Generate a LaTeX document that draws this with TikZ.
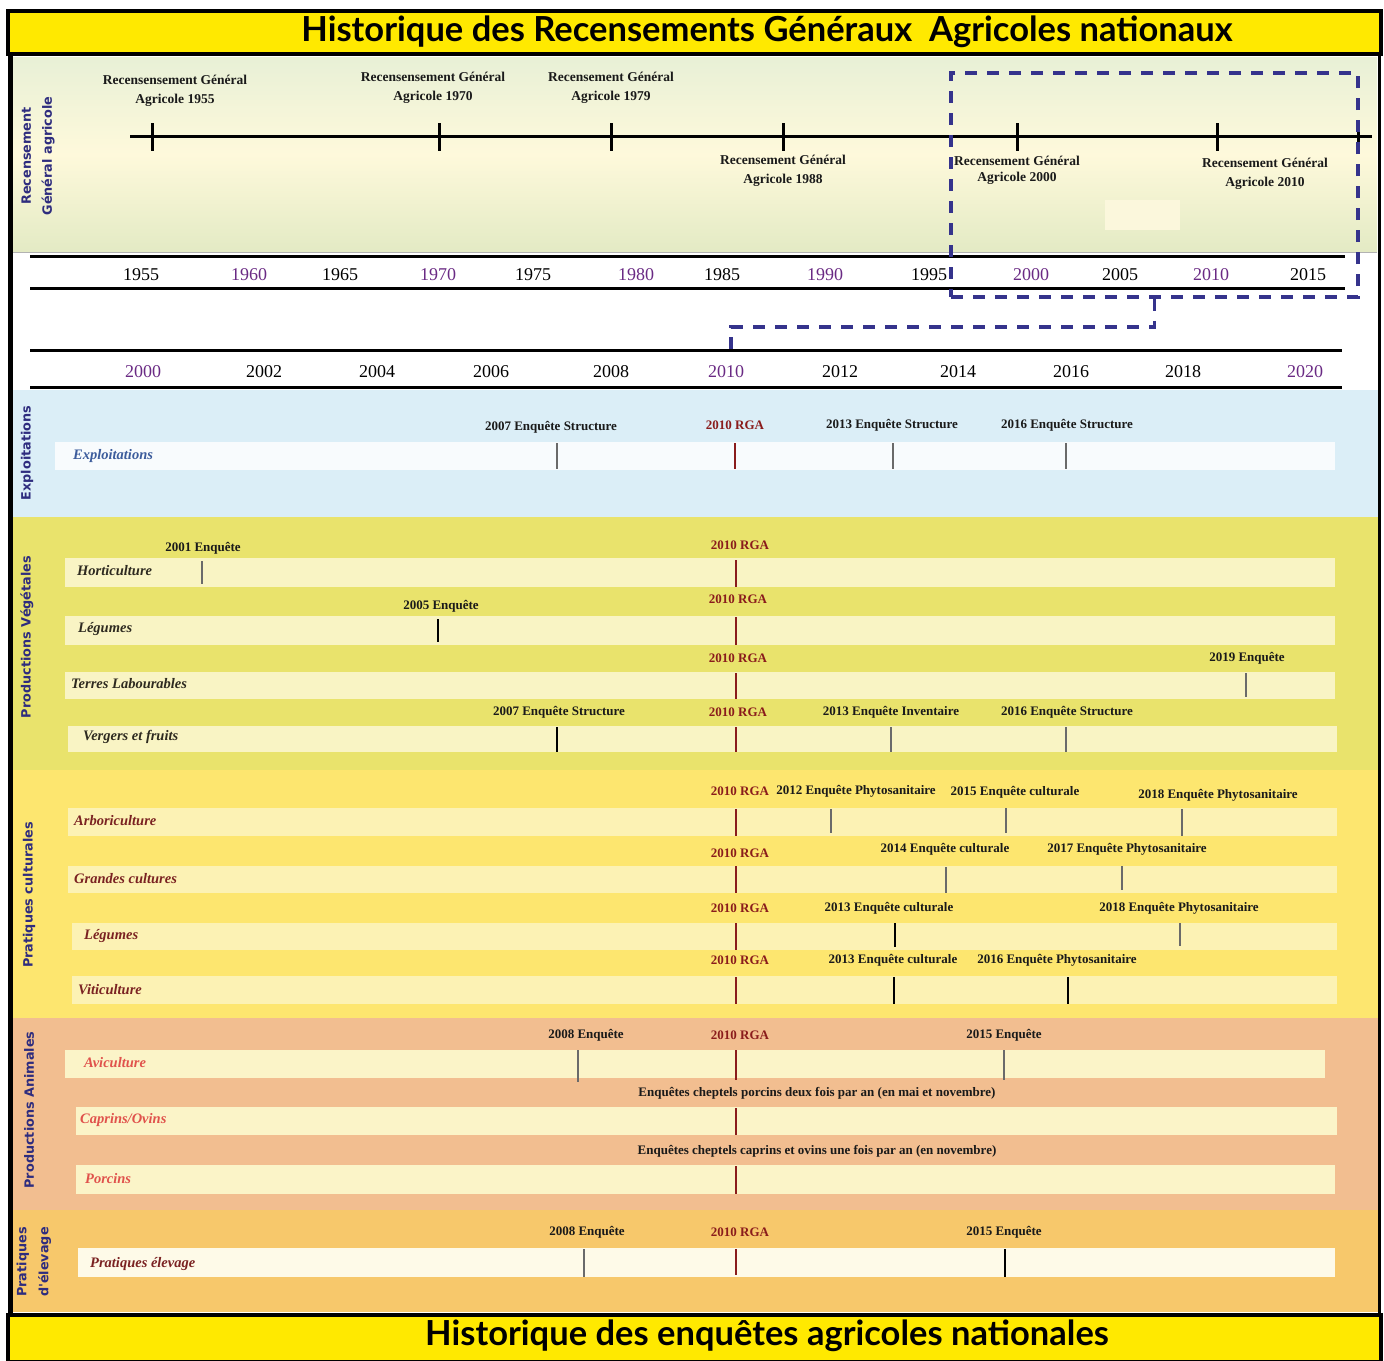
\documentclass[tikz,border=0pt]{standalone}
\usepackage{fontspec}
\setmainfont{Liberation Serif}
\newfontfamily\titlefont{Lato}
\newfontfamily\secfont{DejaVu Sans}
\definecolor{titley}{HTML}{FFE900}
\definecolor{navy}{HTML}{2E2C7E}
\definecolor{dashc}{HTML}{35338C}
\definecolor{purp}{HTML}{6A2A84}
\definecolor{rgac}{HTML}{8A1C1C}
\definecolor{pantop}{HTML}{E8F0D6}
\definecolor{panmid}{HTML}{FEF9DB}
\definecolor{panbot}{HTML}{E3EAC4}
\definecolor{patch}{HTML}{FBF7DC}
\definecolor{expbg}{HTML}{DBEEF7}
\definecolor{vegbg}{HTML}{E9E36C}
\definecolor{culbg}{HTML}{FDE66F}
\definecolor{anibg}{HTML}{F2BE90}
\definecolor{elebg}{HTML}{F7C86B}
\definecolor{expbar}{HTML}{F8FBFD}
\definecolor{vegbar}{HTML}{F9F4C4}
\definecolor{culbar}{HTML}{FCF2B4}
\definecolor{anibar}{HTML}{FBF4C8}
\definecolor{elebar}{HTML}{FEFAE8}
\definecolor{explab}{HTML}{3C5C9C}
\definecolor{veglab}{HTML}{2E2A20}
\definecolor{cullab}{HTML}{7A2222}
\definecolor{anilab}{HTML}{E0524C}
\definecolor{evc}{HTML}{1A1A1A}
\definecolor{tickgray}{HTML}{6A6A6A}
\newcommand\evl[3]{\node[evlab] (#1) at #2 {#3};}
\newcommand\rgal[2]{\node[evlab,text=rgac] (#1) at #2 {2010 RGA};}
\newcommand\tk[4][tickc]{\draw[#1] (#2,#3) -- (#2,#4);}
\begin{document}
\begin{tikzpicture}[x=1pt,y=-1pt,
  evlab/.style={font=\fontsize{13}{14}\selectfont\bfseries, text=evc, inner sep=0pt},
  rgalab/.style={font=\fontsize{13.5}{19}\selectfont\bfseries, text=evc, inner sep=0pt, align=center},
  yearlab/.style={font=\fontsize{18}{20}\selectfont, inner sep=0pt},
  rowlab/.style={font=\fontsize{14.5}{16}\selectfont\bfseries\itshape, anchor=west, inner sep=0pt},
  seclab/.style={font=\secfont\bfseries\fontsize{12.8}{18}\selectfont, text=navy, rotate=90, align=center, inner sep=0pt},
  tickc/.style={tickgray, line width=1.3pt},
  tickb/.style={black, line width=1.3pt},
  tickr/.style={rgac, line width=1.8pt},
  axis/.style={black, line width=3pt},
  dashbox/.style={dashc, line width=3.8pt, dash pattern=on 12pt off 10pt},
  titlelab/.style={font=\titlefont\bfseries\fontsize{34.5}{38}\selectfont, inner sep=0pt}
]
\useasboundingbox (0,0) rectangle (1384,1360);
\fill[white] (0,0) rectangle (1384,1360);
% ---------- title bar
\draw[black, line width=4pt, fill=titley] (8,11) rectangle (1381,54);
\node[titlelab] (title) at (767,32) {Historique des Recensements Généraux\ \ Agricoles nationaux};
% ---------- RGA panel
\shade[top color=pantop, bottom color=panbot, middle color=panmid] (13,57) rectangle (1377,252);
\draw[gray!60, line width=1pt] (13,252) -- (1377,252);
\fill[patch] (1105,200) rectangle (1180,230);
\node[seclab] (secrga) at (38,156) {Recensement\\[3pt]Général agricole};
\coordinate (tlA) at (130,136);
\coordinate (tlB) at (1372,136);
\draw[axis] (tlA) -- (tlB);
\foreach \xx in {152,439,611,783,1017,1217,1358} {\draw[black, line width=3pt] (\xx,123) -- (\xx,151);}
\node[rgalab] (r1955) at (175,91) {Recensensement Général\\Agricole 1955};
\node[rgalab] (r1970) at (433,88) {Recensensement Général\\Agricole 1970};
\node[rgalab] (r1979) at (611,88) {Recensement Général\\Agricole 1979};
\node[rgalab] (r1988) at (783,171) {Recensement Général\\Agricole 1988};
\node[rgalab, font=\fontsize{13.5}{16}\selectfont\bfseries] (r2000) at (1017,170) {Recensement Général\\Agricole 2000};
\node[rgalab] (r2010) at (1265,174) {Recensement Général\\Agricole 2010};
% ---------- year rows
\draw[axis] (30,256) -- (1345,256);
\draw[axis] (30,288) -- (1345,288);
\draw[axis] (30,350) -- (1342,350);
\draw[axis] (30,387) -- (1342,387);
\foreach \xx/\yy/\cc in {141/1955/black,249/1960/purp,340/1965/black,438/1970/purp,533/1975/black,636/1980/purp,722/1985/black,825/1990/purp,929/1995/black,1031/2000/purp,1120/2005/black,1211/2010/purp,1308/2015/black}
  {\node[yearlab, text=\cc] (ya\yy) at (\xx,275) {\yy};}
\foreach \xx/\yy/\cc in {143/2000/purp,264/2002/black,377/2004/black,491/2006/black,611/2008/black,726/2010/purp,840/2012/black,958/2014/black,1071/2016/black,1183/2018/black,1305/2020/purp}
  {\node[yearlab, text=\cc] (yb\yy) at (\xx,372) {\yy};}
% ---------- zoom box
\node[dashbox, draw, minimum width=407pt, minimum height=224pt, inner sep=0pt] (zoombox) at (1154.5,185) {};
\coordinate (zoomend) at (731,350);
\draw[dashbox] (zoombox.south) -- ++(0,28) -| (zoomend);
% ---------- section backgrounds
\fill[expbg] (13,390) rectangle (1378,517);
\fill[vegbg] (13,517) rectangle (1378,770);
\fill[culbg] (13,770) rectangle (1378,1018);
\fill[anibg] (13,1018) rectangle (1378,1210);
\fill[elebg] (13,1210) rectangle (1378,1312);
\node[seclab] (secexp) at (27,453) {Exploitations};
\node[seclab] (secveg) at (27,637) {Productions Végétales};
\node[seclab] (seccul) at (29,895) {Pratiques culturales};
\node[seclab] (secani) at (29,1110) {Productions Animales};
\node[seclab] (secele) at (34,1262) {Pratiques\\[4pt]d'élevage};
% ---------- Exploitations
\fill[expbar] (55,442) rectangle (1335,470);
\node[rowlab, text=explab] (lexp) at (73,456) {Exploitations};
\evl{e1}{(551,427)}{2007 Enquête Structure}
\rgal{e2}{(735,425)}
\evl{e3}{(892,425)}{2013 Enquête Structure}
\evl{e4}{(1067,425)}{2016 Enquête Structure}
\tk{557}{443}{469} \tk[tickr]{735}{443}{469} \tk{893}{443}{469} \tk{1066}{443}{469}
% ---------- Productions végétales
\fill[vegbar] (65,558) rectangle (1335,587);
\fill[vegbar] (65,616) rectangle (1335,645);
\fill[vegbar] (65,672) rectangle (1335,699);
\fill[vegbar] (68,726) rectangle (1337,752);
\node[rowlab, text=veglab] (lhor) at (77,571) {Horticulture};
\node[rowlab, text=veglab] (lleg) at (78,629) {Légumes};
\node[rowlab, text=veglab] (lter) at (71,684) {Terres Labourables};
\node[rowlab, text=veglab] (lver) at (83,737) {Vergers et fruits};
\evl{h1}{(203,548)}{2001 Enquête}
\rgal{h2}{(740,545)}
\tk{202}{561}{584} \tk[tickr]{736}{560}{587}
\evl{l1}{(441,606)}{2005 Enquête}
\rgal{l2}{(738,599)}
\tk[tickb]{438}{619}{642} \tk[tickr]{736}{617}{645}
\rgal{t1}{(738,658)}
\evl{t2}{(1247,658)}{2019 Enquête}
\tk[tickr]{736}{673}{699} \tk{1246}{673}{697}
\evl{v1}{(559,712)}{2007 Enquête Structure}
\rgal{v2}{(738,712)}
\evl{v3}{(891,712)}{2013 Enquête Inventaire}
\evl{v4}{(1067,712)}{2016 Enquête Structure}
\tk[tickb]{557}{727}{752} \tk[tickr]{736}{727}{752} \tk{891}{727}{752} \tk{1066}{727}{752}
% ---------- Pratiques culturales
\fill[culbar] (68,808) rectangle (1337,836);
\fill[culbar] (68,866) rectangle (1337,893);
\fill[culbar] (72,923) rectangle (1337,950);
\fill[culbar] (72,976) rectangle (1337,1004);
\node[rowlab, text=cullab] (larb) at (74,821) {Arboriculture};
\node[rowlab, text=cullab] (lgra) at (74,879) {Grandes cultures};
\node[rowlab, text=cullab] (lleg2) at (84,936) {Légumes};
\node[rowlab, text=cullab] (lvit) at (78,990) {Viticulture};
\rgal{a1}{(740,791)}
\evl{a2}{(856,791)}{2012 Enquête Phytosanitaire}
\evl{a3}{(1015,792)}{2015 Enquête culturale}
\evl{a4}{(1218,795)}{2018 Enquête Phytosanitaire}
\tk[tickr]{736}{809}{836} \tk{831}{809}{833} \tk{1006}{808}{833} \tk{1182}{809}{836}
\rgal{g1}{(740,853)}
\evl{g2}{(945,849)}{2014 Enquête culturale}
\evl{g3}{(1127,849)}{2017 Enquête Phytosanitaire}
\tk[tickr]{736}{866}{893} \tk{946}{867}{893} \tk{1122}{866}{890}
\rgal{c1}{(740,908)}
\evl{c2}{(889,908)}{2013 Enquête culturale}
\evl{c3}{(1179,908)}{2018 Enquête Phytosanitaire}
\tk[tickr]{736}{923}{950} \tk[tickb]{895}{923}{947} \tk{1180}{923}{946}
\rgal{w1}{(740,960)}
\evl{w2}{(893,960)}{2013 Enquête culturale}
\evl{w3}{(1057,960)}{2016 Enquête Phytosanitaire}
\tk[tickr]{736}{977}{1004} \tk[tickb]{894}{977}{1004} \tk[tickb]{1068}{977}{1004}
% ---------- Productions animales
\fill[anibar] (65,1050) rectangle (1325,1078);
\fill[anibar] (76,1107) rectangle (1337,1135);
\fill[anibar] (76,1165) rectangle (1335,1194);
\node[rowlab, text=anilab] (lavi) at (84,1063) {Aviculture};
\node[rowlab, text=anilab] (lcap) at (80,1120) {Caprins/Ovins};
\node[rowlab, text=anilab] (lpor) at (85,1179) {Porcins};
\evl{p1}{(586,1035)}{2008 Enquête}
\rgal{p2}{(740,1035)}
\evl{p3}{(1004,1035)}{2015 Enquête}
\tk{578}{1050}{1082} \tk[tickr]{736}{1050}{1080} \tk{1004}{1050}{1080}
\evl{p4}{(817,1093)}{Enquêtes cheptels porcins deux fois par an (en mai et novembre)}
\tk[tickr]{736}{1108}{1135}
\evl{p5}{(817,1151)}{Enquêtes cheptels caprins et ovins une fois par an (en novembre)}
\tk[tickr]{736}{1166}{1194}
% ---------- Pratiques d'élevage
\fill[elebar] (78,1248) rectangle (1335,1277);
\node[rowlab, text=cullab] (lele) at (90,1264) {Pratiques élevage};
\evl{q1}{(587,1232)}{2008 Enquête}
\rgal{q2}{(740,1232)}
\evl{q3}{(1004,1232)}{2015 Enquête}
\tk{584}{1249}{1277} \tk[tickr]{736}{1249}{1275} \tk[tickb]{1005}{1249}{1277}
% ---------- frame
\draw[black, line width=5pt] (10,54) -- (10,1360);
\draw[black, line width=3pt] (1379,54) -- (1379,1315);
\draw[black, line width=4pt, fill=titley] (8,1315) rectangle (1381,1362);
\node[titlelab] (subtitle) at (767,1336) {Historique des enquêtes agricoles nationales};
\end{tikzpicture}
\end{document}
